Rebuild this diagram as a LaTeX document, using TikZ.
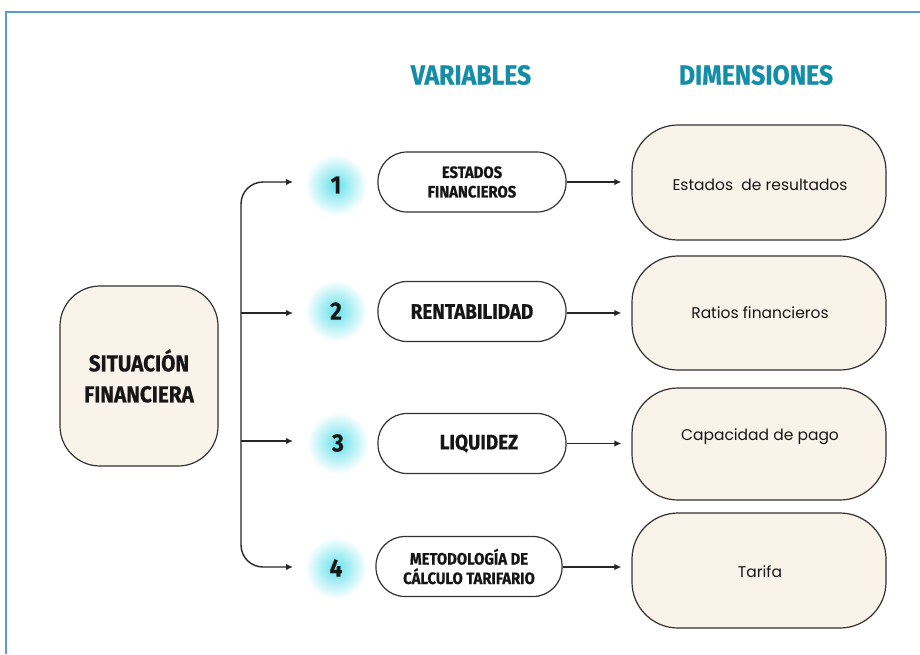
\documentclass[tikz,border=0pt]{standalone}
\usepackage{fontspec}
\usetikzlibrary{arrows.meta}
\newfontfamily\headfont[FakeStretch=0.9, FakeBold=0.6]{Fira Sans}
\newfontfamily\dimfont{Poppins}
\definecolor{framecol}{RGB}{91,155,213}
\definecolor{headcol}{RGB}{20,141,166}
\definecolor{boxfill}{RGB}{249,243,234}
\definecolor{edgecol}{RGB}{50,50,50}
\definecolor{txtcol}{RGB}{22,22,22}
\definecolor{glowcol}{RGB}{100,225,235}
\tikzset{
  head/.style={text=headcol, font=\headfont\bfseries\fontsize{27.5}{29}\selectfont, inner sep=0pt},
  mainbox/.style={draw=edgecol, line width=1.2pt, fill=boxfill, rounded corners=40pt,
    minimum width=158pt, minimum height=180pt, inner sep=0pt, align=center, text=txtcol,
    font=\headfont\bfseries\fontsize{23}{31}\selectfont},
  varbox/.style={draw=edgecol, line width=1.2pt, fill=white, rounded corners=29pt,
    minimum width=188pt, minimum height=60pt, inner sep=0pt, align=center, text=txtcol},
  dimbox/.style={draw=edgecol, line width=1.2pt, fill=boxfill, rounded corners=46pt,
    minimum width=254pt, minimum height=114pt, inner sep=0pt},
  dimtext/.style={text=txtcol, font=\dimfont\fontsize{15.5}{17}\selectfont, inner sep=0pt},
  numtext/.style={text=txtcol, font=\headfont\bfseries\fontsize{25}{27}\selectfont, inner sep=0pt},
  varbig/.style={font=\headfont\bfseries\fontsize{21}{23}\selectfont},
  varsmall/.style={font=\headfont\bfseries\fontsize{16.5}{19.5}\selectfont},
  arr/.style={-{Latex[length=7pt,width=6.5pt]}, line width=1.4pt, draw=black!85},
  glow/.style={inner color=glowcol, outer color=white}
}
\begin{document}
\begin{tikzpicture}[x=1pt,y=-1pt]
\useasboundingbox (0,0) rectangle (920,654);
\fill[white] (0,0) rectangle (920,654);
\draw[framecol, line width=1.5pt] (6,654) -- (6,12) -- (920,12);

% headers
\node[head] (hv) at (471,75) {VARIABLES};
\node[head] (hd) at (756,75) {DIMENSIONES};

% main box
\node[mainbox] (sf) at (139,376) {SITUACIÓN\\FINANCIERA};

% glows and numbers
\coordinate (g1) at (336,185);
\coordinate (g2) at (336,311);
\coordinate (g3) at (338,443);
\coordinate (g4) at (336,568);
\foreach \g in {g1,g2,g3,g4}{\shade[glow] (\g) circle (31);}
\node[numtext] (n1) at (g1) {1};
\node[numtext] (n2) at (g2) {2};
\node[numtext] (n3) at (g3) {3};
\node[numtext] (n4) at (g4) {4};

% variable boxes
\node[varbox, varsmall] (v1) at (472,182) {ESTADOS\\FINANCIEROS};
\node[varbox, varbig] (v2) at (472,311.5) {RENTABILIDAD};
\node[varbox, varbig] (v3) at (472,443.5) {\hspace*{14pt}LIQUIDEZ};
\node[varbox, varsmall, minimum width=186pt] (v4) at (469,566.5) {METODOLOGÍA DE\\CÁLCULO TARIFARIO};

% dimension boxes
\node[dimbox, minimum height=115pt] (d1) at (759,182.5) {};
\node[dimbox] (d2) at (759,313) {};
\node[dimbox, minimum height=112pt] (d3) at (759,444) {};
\node[dimbox, minimum height=115pt] (d4) at (759,570.5) {};
\node[dimtext] (t1) at (760,185) {Estados\ \ de resultados};
\node[dimtext] (t2) at (760,313) {Ratios financieros};
\node[dimtext] (t3) at (760,437) {Capacidad de pago};
\node[dimtext] (t4) at (760,572) {Tarifa};

% trunk
\coordinate (a1) at (293,182);
\coordinate (a2) at (293,313);
\coordinate (a3) at (293,441);
\coordinate (a4) at (293,567);
\coordinate (j2) at (241,313);
\coordinate (j3) at (241,441);
\coordinate (tb) at (241,567);
\draw[arr, {Latex[length=7pt,width=6.5pt]}-{Latex[length=7pt,width=6.5pt]}, rounded corners=22pt] (a1) -| (tb) -- (a4);
\draw[arr] (j2) -- (a2);
\draw[arr] (j3) -- (a3);

% variable to dimension
\draw[arr, shorten >=10pt] (v1) -- (v1 -| d1.west);
\draw[arr, shorten >=10pt] (v2.east |- a2) -- (a2 -| d2.west);
\draw[arr, shorten >=10pt] (v3) -- (v3 -| d3.west);
\draw[arr, shorten >=10pt] (v4.east |- a4) -- (a4 -| d4.west);
\end{tikzpicture}
\end{document}
